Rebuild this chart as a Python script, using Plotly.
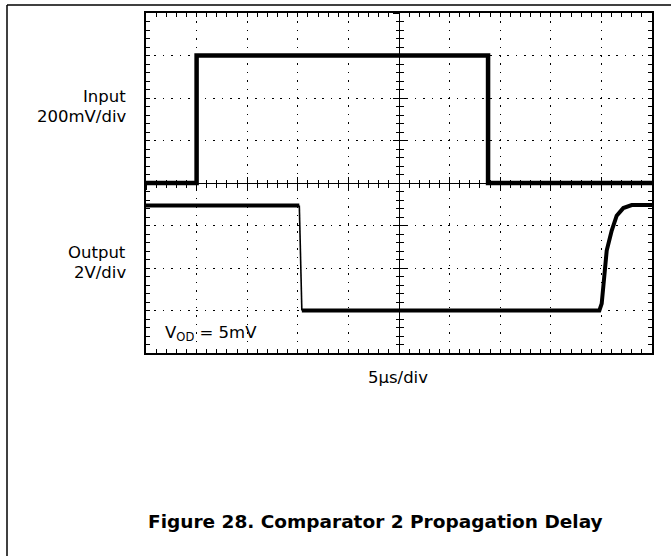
import plotly.graph_objects as go

# Time axis in divisions (5 µs/div), vertical in divisions
input_t = [0, 1.0, 1.0, 6.76, 6.76, 10]
input_v = [0, 0, 3, 3, 0, 0]

output_t = [0, 3.03, 3.05, 3.07, 3.08, 8.96, 9.006, 9.051, 9.105, 9.204, 9.302, 9.433, 9.6, 10]
output_v = [-0.53, -0.53, -1.4, -2.6, -3, -3, -2.84, -2.22, -1.59, -1.12, -0.77, -0.59, -0.52, -0.52]

FONT = "DejaVu Sans, sans-serif"

fig = go.Figure()
fig.add_trace(go.Scatter(x=input_t, y=input_v, mode="lines",
                         line=dict(color="black", width=4.5), hoverinfo="skip", showlegend=False))
# output: high level, thin falling edge, then thick rest
fig.add_trace(go.Scatter(x=output_t[:2], y=output_v[:2], mode="lines",
                         line=dict(color="black", width=4), hoverinfo="skip", showlegend=False))
fig.add_trace(go.Scatter(x=output_t[1:5], y=output_v[1:5], mode="lines",
                         line=dict(color="black", width=1.6), hoverinfo="skip", showlegend=False))
fig.add_trace(go.Scatter(x=output_t[4:], y=output_v[4:], mode="lines",
                         line=dict(color="black", width=4), hoverinfo="skip", showlegend=False))
# invisible traces to carry the centre crosshair axes
fig.add_trace(go.Scatter(x=[], y=[], xaxis="x2", yaxis="y2", showlegend=False, hoverinfo="skip"))
fig.add_trace(go.Scatter(x=[], y=[], xaxis="x3", yaxis="y3", showlegend=False, hoverinfo="skip"))

common_border = dict(showline=True, linecolor="black", linewidth=2, mirror="ticks",
                     ticks="inside", ticklen=4, tickwidth=1, tickcolor="black",
                     showticklabels=False, zeroline=False, showgrid=True,
                     gridcolor="black", gridwidth=1.3, griddash="1.5px,6.9px", tick0=0, dtick=1)

center_common = dict(anchor="free", position=0.5, tick0=0, dtick=1, tickcolor="black",
                     ticklen=6, showticklabels=False, showgrid=False, zeroline=False)

fig.update_layout(
    width=671, height=556,
    margin=dict(l=146, r=19, t=11, b=203),
    paper_bgcolor="white", plot_bgcolor="white",
    font=dict(family=FONT, size=16.5, color="black"),
    xaxis=dict(range=[0, 10], minor=dict(dtick=0.2, ticks="inside", ticklen=4, tickcolor="black", showgrid=False),
               **common_border),
    yaxis=dict(range=[-4, 4], minor=dict(dtick=0.2, ticks="inside", ticklen=4, tickcolor="black", showgrid=False),
               **common_border),
    xaxis2=dict(range=[0, 10], overlaying="x", showline=True, linecolor="black", linewidth=1,
                ticks="inside", minor=dict(dtick=0.2, ticks="inside", ticklen=3.5, tickcolor="black"),
                **center_common),
    yaxis2=dict(range=[-4, 4], overlaying="y", showline=True, linecolor="black", linewidth=1,
                ticks="inside", minor=dict(dtick=0.2, ticks="inside", ticklen=3.5, tickcolor="black"),
                **center_common),
    xaxis3=dict(range=[0, 10], overlaying="x", showline=False,
                ticks="outside", minor=dict(dtick=0.2, ticks="outside", ticklen=3.5, tickcolor="black"),
                **center_common),
    yaxis3=dict(range=[-4, 4], overlaying="y", showline=False,
                ticks="outside", minor=dict(dtick=0.2, ticks="outside", ticklen=3.5, tickcolor="black"),
                **center_common),
)

def lab(text, x, y, xanchor="right", xref="paper", yref="paper", size=16.5):
    return dict(text=text, xref=xref, yref=yref, x=x, y=y, xanchor=xanchor, yanchor="middle",
                showarrow=False, font=dict(size=size))

annotations = [
    lab("Input", -0.0356, 0.7544),
    lab("200mV/div", -0.0356, 0.6959),
    lab("Output", -0.0356, 0.2953),
    lab("2V/div", -0.0356, 0.2368),
    lab("V<sub>OD</sub>\u00a0= 5mV", 0.34, -3.53, xanchor="left", xref="x", yref="y"),
    lab("5µs/div", 0.498, -0.0731, xanchor="center"),
    lab("<b>Figure 28. Comparator 2 Propagation Delay</b>", 0.4536, -0.4942, xanchor="center", size=18.5),
]
fig.update_layout(annotations=annotations)

# page frame lines (top rule and left rule)
fig.add_shape(type="line", xref="paper", yref="paper", x0=-0.2747, x1=1.04, y0=1.0234, y1=1.0234,
              line=dict(color="black", width=1.5))
fig.add_shape(type="line", xref="paper", yref="paper", x0=-0.2747, x1=-0.2747, y0=1.0234, y1=-0.6,
              line=dict(color="black", width=1.5))

fig.write_html("out.html", config={"displayModeBar": False},
               post_script="document.body.style.margin='0';")
